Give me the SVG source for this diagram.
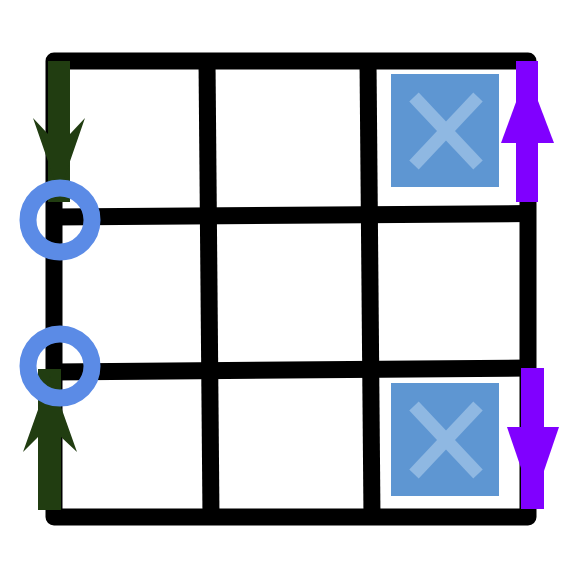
<svg xmlns="http://www.w3.org/2000/svg" width="574" height="574" viewBox="0 0 574 574">
  <style>
    .grid { stroke: #000; stroke-width: 17; fill: none; stroke-linecap: butt; stroke-linejoin: round; }
    .cell { fill: #5e96d2; }
    .cross { stroke: #8fb8e2; stroke-width: 13; stroke-linecap: butt; }
    .green { fill: #213d11; }
    .purple { fill: #8000ff; }
    .ring { fill: none; stroke: #5b8be6; stroke-width: 17; }
  </style>
  <g id="connectors">
    <path class="grid" d="M54,61 L528,61 L528,517 L54,517 Z"/>
    <line class="grid" x1="207" y1="61" x2="211" y2="517"/>
    <line class="grid" x1="368" y1="61" x2="372" y2="517"/>
    <line class="grid" x1="54" y1="217" x2="528" y2="213.5"/>
    <line class="grid" x1="54" y1="372" x2="528" y2="368"/>
  </g>
  <g id="block-top">
    <rect class="cell" x="391" y="74" width="108" height="113"/>
    <line class="cross" x1="414" y1="97" x2="478" y2="165"/>
    <line class="cross" x1="478" y1="97" x2="414" y2="165"/>
  </g>
  <g id="block-bottom">
    <rect class="cell" x="391" y="383" width="108" height="113"/>
    <line class="cross" x1="414" y1="406" x2="478" y2="474"/>
    <line class="cross" x1="478" y1="406" x2="414" y2="474"/>
  </g>
  <g id="arrow-green-top">
    <rect class="green" x="48" y="61" width="22" height="141"/>
    <polygon class="green" points="33,118 48,134 70,134 85,118 59,193"/>
  </g>
  <g id="arrow-green-bottom">
    <rect class="green" x="38" y="369" width="23" height="141"/>
    <polygon class="green" points="23,452 38,437 61,437 77,452 50,376"/>
  </g>
  <g id="arrow-purple-top">
    <rect class="purple" x="516" y="61" width="22" height="141"/>
    <polygon class="purple" points="501,143 554,143 527,72"/>
  </g>
  <g id="arrow-purple-bottom">
    <rect class="purple" x="521" y="368" width="23" height="141"/>
    <polygon class="purple" points="507,427 559,427 533,503"/>
  </g>
  <g id="ring-top">
    <circle class="ring" cx="60" cy="220" r="32"/>
  </g>
  <g id="ring-bottom">
    <circle class="ring" cx="60" cy="366" r="32"/>
  </g>
</svg>
